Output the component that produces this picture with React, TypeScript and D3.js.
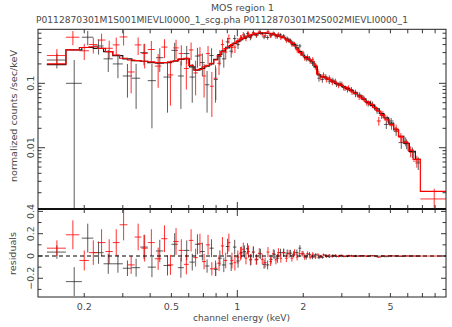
import React from "react";
import * as d3 from "d3";

const TITLE = "MOS region 1";
const SUBTITLE = "P0112870301M1S001MIEVLI0000_1_scg.pha  P0112870301M2S002MIEVLI0000_1";
const X_LABEL = "channel energy (keV)";
const Y_LABEL_TOP = "normalized counts /sec/keV";
const Y_LABEL_RES = "residuals";

const xTickLabels = [0.2, 0.5, 1, 2, 5];
const yTopTickLabels = [0.01, 0.1];
const yResTickLabels = [-0.2, 0, 0.2, 0.4];

// MOS1 (black): bin edges (keV), model, data, error (counts/sec/keV)
const mos1Edges = [
  0.135, 0.165, 0.195, 0.22, 0.245, 0.27, 0.30, 0.33, 0.36, 0.39,
  0.425, 0.46, 0.50, 0.535, 0.57, 0.605, 0.64, 0.675, 0.71, 0.745,
  0.78, 0.815, 0.85, 0.885, 0.92, 0.955, 0.99, 1.025, 1.06, 1.095,
  1.13, 1.165, 1.20, 1.25, 1.30, 1.35, 1.40, 1.45, 1.50, 1.55,
  1.60, 1.66, 1.72, 1.78, 1.84, 1.90, 1.96, 2.03, 2.10, 2.17,
  2.24, 2.32, 2.40, 2.49, 2.58, 2.68, 2.78, 2.89, 3.00, 3.12,
  3.25, 3.39, 3.54, 3.70, 3.87, 4.05, 4.24, 4.45, 4.67, 4.91,
  5.17, 5.45, 5.76, 6.10, 6.50, 6.90,
];
const mos1Model = [
  0.195, 0.33, 0.36, 0.35, 0.31, 0.27, 0.24, 0.225, 0.22, 0.21,
  0.205, 0.21, 0.22, 0.235, 0.24, 0.18, 0.16, 0.17, 0.185, 0.20,
  0.235, 0.28, 0.32, 0.355, 0.385, 0.415, 0.445, 0.475, 0.50, 0.525,
  0.55, 0.57, 0.585, 0.595, 0.60, 0.595, 0.585, 0.57, 0.555, 0.535,
  0.51, 0.475, 0.44, 0.40, 0.355, 0.31, 0.275, 0.25, 0.23, 0.215,
  0.18, 0.135, 0.127, 0.121, 0.115, 0.107, 0.100, 0.095, 0.089, 0.083,
  0.077, 0.071, 0.064, 0.057, 0.051, 0.045, 0.040, 0.034, 0.029, 0.024,
  0.019, 0.015, 0.0117, 0.0088, 0.0066,
];
const mos1Rate = [
  0.23, 0.10, 0.52, 0.38, 0.24, 0.20, 0.13, 0.12, 0.30, 0.11,
  0.25, 0.125, 0.325, 0.13, 0.29, 0.125, 0.265, 0.21, 0.095, 0.27,
  0.115, 0.26, 0.24, 0.44, 0.315, 0.495, 0.40, 0.505, 0.54, 0.59,
  0.515, 0.605, 0.555, 0.615, 0.525, 0.515, 0.555, 0.585, 0.535, 0.565,
  0.54, 0.50, 0.465, 0.415, 0.385, 0.38, 0.295, 0.24, 0.245, 0.205,
  0.19, 0.12, 0.115, 0.127, 0.108, 0.112, 0.097, 0.099, 0.086, 0.080,
  0.080, 0.068, 0.066, 0.058, 0.049, 0.047, 0.038, 0.032, 0.023, 0.026,
  0.018, 0.012, 0.0115, 0.0085, 0.0058,
];
const mos1Err = [
  0.06, 0.13, 0.13, 0.10, 0.09, 0.08, 0.07, 0.08, 0.11, 0.09,
  0.10, 0.09, 0.10, 0.09, 0.09, 0.075, 0.09, 0.08, 0.06, 0.08,
  0.06, 0.07, 0.065, 0.07, 0.065, 0.065, 0.06, 0.055, 0.055, 0.05,
  0.05, 0.05, 0.045, 0.045, 0.04, 0.04, 0.04, 0.04, 0.04, 0.035,
  0.035, 0.033, 0.03, 0.03, 0.028, 0.027, 0.024, 0.022, 0.02, 0.019,
  0.017, 0.014, 0.013, 0.012, 0.011, 0.01, 0.0095, 0.009, 0.0085, 0.008,
  0.0075, 0.007, 0.0065, 0.006, 0.0055, 0.005, 0.0045, 0.004, 0.0035, 0.003,
  0.0028, 0.0024, 0.002, 0.0016, 0.0013,
];

// MOS2 (red)
const mos2Edges = [
  0.135, 0.165, 0.19, 0.21, 0.23, 0.25, 0.27, 0.29, 0.315, 0.34,
  0.365, 0.39, 0.42, 0.45, 0.48, 0.51, 0.54, 0.57, 0.60, 0.63,
  0.66, 0.69, 0.72, 0.75, 0.78, 0.81, 0.84, 0.87, 0.90, 0.93,
  0.96, 0.99, 1.02, 1.05, 1.08, 1.11, 1.14, 1.17, 1.20, 1.24,
  1.28, 1.32, 1.36, 1.40, 1.44, 1.48, 1.52, 1.56, 1.60, 1.65,
  1.70, 1.75, 1.80, 1.85, 1.90, 1.95, 2.00, 2.06, 2.12, 2.18,
  2.24, 2.30, 2.37, 2.44, 2.51, 2.59, 2.67, 2.76, 2.85, 2.95,
  3.05, 3.16, 3.28, 3.40, 3.53, 3.67, 3.82, 3.98, 4.15, 4.33,
  4.52, 4.72, 4.94, 5.18, 5.44, 5.72, 6.02, 6.35, 6.85, 9.0,
];
const mos2Model = [
  0.20, 0.33, 0.36, 0.37, 0.35, 0.31, 0.275, 0.245, 0.23, 0.225,
  0.22, 0.215, 0.21, 0.21, 0.215, 0.225, 0.24, 0.245, 0.19, 0.16,
  0.165, 0.18, 0.19, 0.205, 0.23, 0.27, 0.31, 0.345, 0.375, 0.40,
  0.425, 0.455, 0.48, 0.505, 0.525, 0.545, 0.565, 0.58, 0.595, 0.605,
  0.61, 0.61, 0.605, 0.595, 0.58, 0.565, 0.55, 0.53, 0.51, 0.48,
  0.45, 0.42, 0.38, 0.34, 0.30, 0.275, 0.26, 0.24, 0.23, 0.22,
  0.19, 0.14, 0.13, 0.125, 0.12, 0.115, 0.108, 0.102, 0.097, 0.092,
  0.087, 0.081, 0.076, 0.070, 0.064, 0.058, 0.052, 0.047, 0.042, 0.037,
  0.032, 0.027, 0.023, 0.019, 0.015, 0.012, 0.0092, 0.0066, 0.0021,
];
const mos2Rate = [
  0.27, 0.52, 0.32, 0.40, 0.47, 0.35, 0.395, 0.525, 0.15, 0.395,
  0.29, 0.335, 0.185, 0.365, 0.135, 0.355, 0.29, 0.17, 0.33, 0.145,
  0.275, 0.13, 0.29, 0.09, 0.12, 0.205, 0.40, 0.305, 0.495, 0.36,
  0.365, 0.445, 0.50, 0.565, 0.505, 0.585, 0.535, 0.615, 0.56, 0.63,
  0.58, 0.55, 0.64, 0.545, 0.60, 0.53, 0.58, 0.51, 0.54, 0.46,
  0.47, 0.40, 0.41, 0.33, 0.32, 0.295, 0.25, 0.26, 0.22, 0.235,
  0.18, 0.15, 0.125, 0.135, 0.115, 0.122, 0.103, 0.108, 0.093, 0.097,
  0.084, 0.085, 0.073, 0.073, 0.061, 0.060, 0.050, 0.049, 0.043, 0.026,
  0.033, 0.028, 0.022, 0.020, 0.0145, 0.0125, 0.0088, 0.0062, 0.0016,
];
const mos2Err = [
  0.07, 0.13, 0.09, 0.11, 0.12, 0.11, 0.12, 0.14, 0.08, 0.12,
  0.12, 0.12, 0.10, 0.12, 0.09, 0.12, 0.10, 0.09, 0.10, 0.08,
  0.09, 0.07, 0.09, 0.06, 0.07, 0.07, 0.08, 0.07, 0.08, 0.07,
  0.07, 0.06, 0.06, 0.06, 0.055, 0.055, 0.05, 0.05, 0.045, 0.045,
  0.045, 0.045, 0.045, 0.04, 0.04, 0.04, 0.04, 0.04, 0.035, 0.035,
  0.035, 0.03, 0.03, 0.03, 0.03, 0.025, 0.025, 0.022, 0.02, 0.02,
  0.018, 0.015, 0.014, 0.013, 0.012, 0.011, 0.01, 0.01, 0.009, 0.009,
  0.008, 0.008, 0.007, 0.007, 0.006, 0.006, 0.005, 0.005, 0.0045, 0.004,
  0.004, 0.0035, 0.003, 0.0028, 0.0024, 0.002, 0.0017, 0.0013, 0.0007,
];

const W = 452;
const H = 327;
const L = 38;
const R = 446;
const TOP = 29.3;
const MID = 209;
const BOT = 297;
const FONT = "'DejaVu Sans', 'Liberation Sans', sans-serif";
const TEXT = "#4a4a4a";

type Series = { edges: number[]; model: number[]; rate: number[]; err: number[]; color: string };

const isDecade = (t: number) => Math.abs(Math.log10(t) - Math.round(Math.log10(t))) < 1e-6;
const fmtRes = (v: number) => (Math.abs(v) < 1e-9 ? "0" : String(+v.toFixed(1)).replace("-", "\u2212"));

export default function App() {
  const x = d3.scaleLog().domain([0.123, 8.97]).range([L, R]);
  const yT = d3.scaleLog().domain([0.001117, 0.69]).range([MID, TOP]);
  const yR = d3.scaleLinear().domain([-0.368, 0.4215]).range([BOT, MID]);

  const sets: Series[] = [
    { edges: mos1Edges, model: mos1Model, rate: mos1Rate, err: mos1Err, color: "#1c1c1c" },
    { edges: mos2Edges, model: mos2Model, rate: mos2Rate, err: mos2Err, color: "#ff0000" },
  ];

  const n = (s: Series) => Math.min(s.rate.length, s.err.length, s.model.length, s.edges.length - 1);

  const crossPathTop = (s: Series) => {
    const p = d3.path();
    for (let i = 0; i < n(s); i++) {
      const lo = s.edges[i], hi = s.edges[i + 1];
      const d = s.rate[i], e = s.err[i];
      const xc = x((lo + hi) / 2);
      const yv = yT(d);
      p.moveTo(x(lo), yv);
      p.lineTo(x(hi), yv);
      p.moveTo(xc, yT(d + e));
      p.lineTo(xc, d - e > 0 ? yT(d - e) : MID + 5);
    }
    return p.toString();
  };

  const crossPathRes = (s: Series) => {
    const p = d3.path();
    for (let i = 0; i < n(s); i++) {
      const lo = s.edges[i], hi = s.edges[i + 1];
      const r = s.rate[i] - s.model[i], e = s.err[i];
      const xc = x((lo + hi) / 2);
      p.moveTo(x(lo), yR(r));
      p.lineTo(x(hi), yR(r));
      p.moveTo(xc, yR(r + e));
      p.lineTo(xc, yR(r - e));
    }
    return p.toString();
  };

  const modelPath = (s: Series) => {
    const p = d3.path();
    for (let i = 0; i < n(s); i++) {
      const yy = yT(s.model[i]);
      if (i === 0) p.moveTo(x(s.edges[i]), yy);
      else p.lineTo(x(s.edges[i]), yy);
      p.lineTo(x(s.edges[i + 1]), yy);
    }
    return p.toString();
  };

  const xTicks = x.ticks();
  const yTTicks = yT.ticks();
  const yRTicks = yR.ticks(8);

  const tickLines: string[] = [];
  xTicks.forEach((t) => {
    const xx = x(t);
    const len = isDecade(t) ? 7 : 4;
    tickLines.push(`M${xx},${TOP}V${TOP + len}`);
    tickLines.push(`M${xx},${MID}V${MID - len}`);
    tickLines.push(`M${xx},${MID}V${MID + len}`);
    tickLines.push(`M${xx},${BOT}V${BOT - len}`);
  });
  yTTicks.forEach((t) => {
    const yy = yT(t);
    const len = isDecade(t) ? 7 : 3.5;
    tickLines.push(`M${L},${yy}H${L + len}`);
    tickLines.push(`M${R},${yy}H${R - len}`);
  });
  yRTicks.forEach((t) => {
    const yy = yR(t);
    const labeled = yResTickLabels.some((v) => Math.abs(v - t) < 1e-9);
    const len = labeled ? 5 : 3.5;
    tickLines.push(`M${L},${yy}H${L + len}`);
    tickLines.push(`M${R},${yy}H${R - len}`);
  });

  return (
    <svg
      width={W}
      height={H}
      viewBox={`0 0 ${W} ${H}`}
      style={{ position: "absolute", left: 0, top: 0, background: "#fff", display: "block" }}
      fontFamily={FONT}
    >
      <defs>
        <clipPath id="clipTop">
          <rect x={L} y={TOP} width={R - L} height={MID - TOP} />
        </clipPath>
        <clipPath id="clipRes">
          <rect x={L} y={MID} width={R - L} height={BOT - MID} />
        </clipPath>
      </defs>
      <rect x={0} y={0} width={W} height={H} fill="#fff" />

      <text x={242.5} y={10.5} fontSize={9.5} textAnchor="middle" fill={TEXT} textLength={63} lengthAdjust="spacingAndGlyphs">
        {TITLE}
      </text>
      <text x={36} y={23} fontSize={9.5} fill={TEXT} textLength={372} lengthAdjust="spacingAndGlyphs">
        {SUBTITLE}
      </text>

      <g clipPath="url(#clipTop)" fill="none">
        {sets.map((s, k) => (
          <path key={"d" + k} d={crossPathTop(s)} stroke={s.color} strokeWidth={0.9} opacity={k === 0 ? 0.8 : 0.9} />
        ))}
        {sets.map((s, k) => (
          <path key={"m" + k} d={modelPath(s)} stroke={s.color} strokeWidth={1.2} />
        ))}
      </g>

      <g clipPath="url(#clipRes)" fill="none">
        {sets.map((s, k) => (
          <path key={"r" + k} d={crossPathRes(s)} stroke={s.color} strokeWidth={0.9} opacity={k === 0 ? 0.8 : 0.9} />
        ))}
        <line x1={L} x2={R} y1={yR(0)} y2={yR(0)} stroke="#000" strokeWidth={1.2} strokeDasharray="4,3" />
      </g>

      <g fill="none" stroke="#222">
        <rect x={L} y={TOP} width={R - L} height={BOT - TOP} strokeWidth={1} />
        <line x1={L} x2={R} y1={MID} y2={MID} strokeWidth={2} stroke="#111" />
        <path d={tickLines.join("")} strokeWidth={0.9} />
      </g>

      {xTickLabels.map((t) => (
        <text key={"xl" + t} x={x(t)} y={310} fontSize={9.5} textAnchor="middle" fill={TEXT}>
          {String(t)}
        </text>
      ))}
      <text x={241.5} y={320.5} fontSize={9.5} textAnchor="middle" fill={TEXT} textLength={97} lengthAdjust="spacingAndGlyphs">
        {X_LABEL}
      </text>

      {yTopTickLabels.map((t) => (
        <text
          key={"yt" + t}
          transform={`translate(33.5,${yT(t)}) rotate(-90)`}
          fontSize={9.5}
          textAnchor="middle"
          fill={TEXT}
        >
          {String(t)}
        </text>
      ))}
      {yResTickLabels.map((t) => (
        <text
          key={"yr" + t}
          transform={`translate(33.5,${yR(t)}) rotate(-90)`}
          fontSize={9.5}
          textAnchor="middle"
          fill={TEXT}
        >
          {fmtRes(t)}
        </text>
      ))}
      <text
        transform="translate(16.5,116) rotate(-90)"
        fontSize={9.5}
        textAnchor="middle"
        fill={TEXT}
        textLength={132}
        lengthAdjust="spacingAndGlyphs"
      >
        {Y_LABEL_TOP}
      </text>
      <text
        transform="translate(15.5,253.5) rotate(-90)"
        fontSize={9.5}
        textAnchor="middle"
        fill={TEXT}
        textLength={43}
        lengthAdjust="spacingAndGlyphs"
      >
        {Y_LABEL_RES}
      </text>
    </svg>
  );
}
